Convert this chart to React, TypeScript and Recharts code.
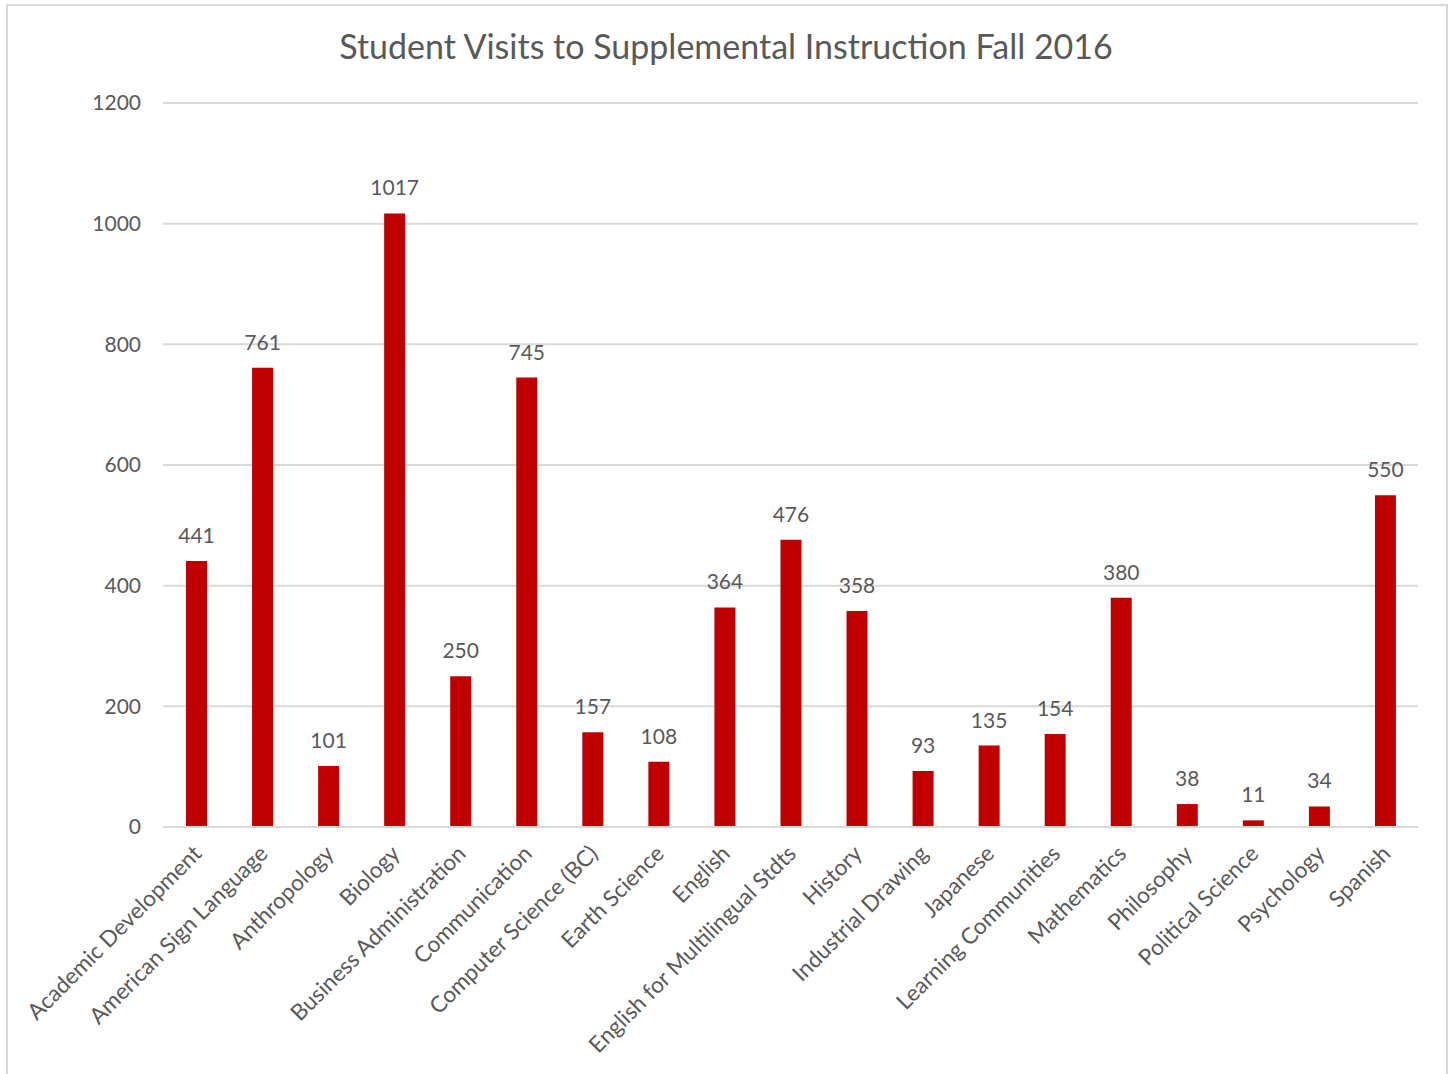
import React from 'react';
import { BarChart, Bar, XAxis, YAxis, CartesianGrid, LabelList } from 'recharts';

// Datos
const materias: string[] = [
  'Academic Development', 'American Sign Language', 'Anthropology', 'Biology',
  'Business Administration', 'Communication', 'Computer Science (BC)', 'Earth Science',
  'English', 'English for Multilingual Stdts', 'History', 'Industrial Drawing',
  'Japanese', 'Learning Communities', 'Mathematics', 'Philosophy',
  'Political Science', 'Psychology', 'Spanish',
];
const visitas: number[] = [441, 761, 101, 1017, 250, 745, 157, 108, 364, 476, 358, 93, 135, 154, 380, 38, 11, 34, 550];
const ticksY: number[] = [0, 200, 400, 600, 800, 1000, 1200];

const titulo = 'Student Visits to Supplemental Instruction Fall 2016';
const fuente = 'Lato, "Open Sans", sans-serif';
const gris = '#595959';

const data = materias.map((m, i) => ({ materia: m, visitas: visitas[i] }));

// Etiqueta rotada del eje X
const TickX = (props: any) => {
  const { x, y, payload } = props;
  return (
    <g transform={`translate(${x + 7},${y + 20})`}>
      <text transform="rotate(-45)" textAnchor="end" fill={gris} fontSize={22.5} fontFamily={fuente}>
        {payload.value}
      </text>
    </g>
  );
};

const App: React.FC = () => (
  <div style={{ position: 'absolute', left: 0, top: 0, width: 1452, height: 1074, overflow: 'hidden', background: '#fff' }}>
    <div style={{ position: 'absolute', left: 6, top: 4, width: 1438, height: 1090, border: '2px solid #d9d9d9' }} />
    <div style={{ position: 'absolute', left: 0, top: 25, width: 1452, textAlign: 'center', fontFamily: fuente, fontSize: 34, color: gris }}>
      {titulo}
    </div>
    <div style={{ position: 'absolute', left: 0, top: 0 }}>
      <BarChart width={1452} height={1074} data={data} margin={{ top: 103, right: 34, left: 0, bottom: 0 }}>
        <CartesianGrid vertical={false} stroke="#d9d9d9" strokeWidth={2} />
        <XAxis
          dataKey="materia"
          interval={0}
          height={247}
          tick={<TickX />}
          tickLine={false}
          axisLine={{ stroke: '#d9d9d9', strokeWidth: 2 }}
        />
        <YAxis
          width={163}
          domain={[0, 1200]}
          ticks={ticksY}
          tickLine={false}
          axisLine={false}
          tickSize={0}
          tickMargin={22}
          tick={{ fill: gris, fontSize: 21, fontFamily: fuente }}
        />
        <Bar dataKey="visitas" fill="#c00000" barSize={21} isAnimationActive={false}>
          <LabelList dataKey="visitas" position="top" offset={18} fill={gris} fontSize={21} fontFamily={fuente} />
        </Bar>
      </BarChart>
    </div>
  </div>
);

export default App;
